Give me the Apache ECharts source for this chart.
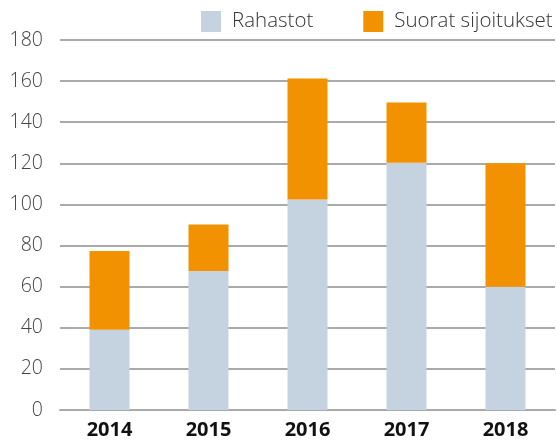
<!DOCTYPE html>
<html>
<head>
<meta charset="utf-8">
<script src="https://cdn.jsdelivr.net/npm/echarts@6/dist/echarts.min.js"></script>
<style>html,body{margin:0;padding:0;background:#fff}#c{width:557px;height:441px}</style>
</head>
<body>
<div id="c"></div>
<script>
const categories = ['2014', '2015', '2016', '2017', '2018'];
const rahastot = [39, 67.6, 102.4, 120.3, 60];
const suorat = [38.4, 22.6, 58.9, 29.3, 60];
const yTicks = [0, 20, 40, 60, 80, 100, 120, 140, 160, 180];

const chart = echarts.init(document.getElementById('c'), null, {renderer: 'canvas'});
chart.setOption({
  animation: false,
  backgroundColor: '#ffffff',
  legend: {
    left: 201, top: 11, padding: 0,
    itemWidth: 20, itemHeight: 21, itemGap: 50,
    icon: 'rect',
    textStyle: {fontFamily: 'Open Sans', fontSize: 20.5, fontWeight: 300, color: '#333333', padding: [0, 0, 0, 6]},
    data: ['Rahastot', 'Suorat sijoitukset']
  },
  grid: {left: 60, right: 2, top: 40, bottom: 31, containLabel: false},
  xAxis: {
    type: 'category',
    data: categories,
    axisLine: {show: true, lineStyle: {color: '#aaaaaa', width: 2}},
    axisTick: {show: false},
    axisLabel: {fontFamily: 'Open Sans', fontWeight: 'bold', fontSize: 20, color: '#111111', margin: 10}
  },
  yAxis: {
    type: 'value',
    min: yTicks[0], max: yTicks[yTicks.length - 1], interval: 20,
    axisLine: {show: false}, axisTick: {show: false},
    splitLine: {lineStyle: {color: '#aaaaaa', width: 2}},
    axisLabel: {fontFamily: 'Open Sans', fontWeight: 300, fontSize: 19.5, color: '#444444', margin: 17}
  },
  series: [
    {name: 'Rahastot', type: 'bar', stack: 'a', barWidth: 40, data: rahastot,
     itemStyle: {color: '#C5D3E0'}},
    {name: 'Suorat sijoitukset', type: 'bar', stack: 'a', barWidth: 40, data: suorat,
     itemStyle: {color: '#F39200'}}
  ]
});
</script>
</body>
</html>
